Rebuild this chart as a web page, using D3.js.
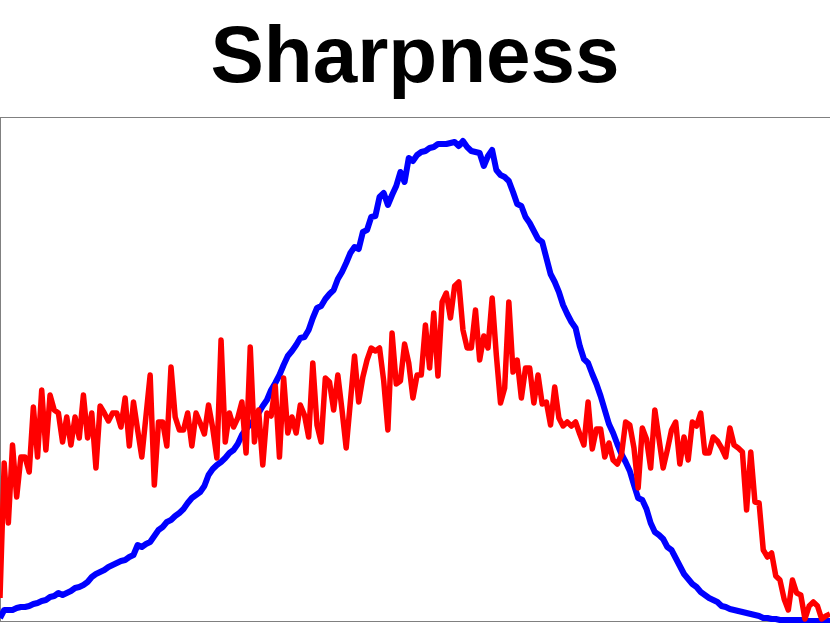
<!DOCTYPE html>
<html>
<head>
<meta charset="utf-8">
<script src="https://cdn.jsdelivr.net/npm/d3@7"></script>
<style>
  html, body { margin: 0; padding: 0; background: #fff; }
  svg { display: block; }
</style>
</head>
<body>
<svg id="chart" width="830" height="623"></svg>
<script>
const title = "Sharpness";

// Red series (noisy) – 200 bins
const redValues = [
  23,158,98,176,124,164,164,149,214,164,
  231,171,226,211,208,179,204,176,204,183,
  226,183,208,153,215,208,200,208,208,194,
  223,175,219,191,164,205,246,136,199,199,
  175,254,204,191,191,208,175,208,198,187,
  216,193,163,281,179,208,194,203,219,168,
  274,179,211,156,208,205,235,164,243,188,
  204,188,216,206,184,258,196,179,243,239,
  211,246,211,173,219,265,219,244,261,273,
  270,273,240,191,288,237,240,277,258,223,
  246,246,296,253,308,245,319,328,303,335,
  339,291,273,273,311,261,285,273,323,266,
  218,233,319,249,261,223,253,253,218,246,
  217,219,196,234,203,195,199,195,199,187,
  176,219,172,192,192,164,178,161,157,166,
  199,196,173,133,193,182,153,211,182,153,
  171,191,199,157,184,161,199,195,208,168,
  168,184,180,173,164,193,176,173,169,111,
  169,119,118,71,64,68,45,41,22,11,
  41,28,26,2,15,19,15,2,5,7
];

// Blue series (smooth bell) – 200 bins
const blueValues = [
  3,11,11,11,13,14,14,15,17,18,
  20,21,24,25,28,26,28,30,33,34,
  36,39,44,47,49,51,54,56,58,60,
  61,64,66,76,74,77,79,85,91,94,
  99,101,105,108,112,118,123,126,129,135,
  146,152,156,159,163,168,171,177,186,192,
  197,201,208,215,221,231,238,246,256,265,
  270,276,283,284,291,303,313,315,322,327,
  331,342,349,358,368,374,372,389,391,404,
  405,424,428,416,426,435,449,439,463,460,
  466,469,470,473,474,477,477,477,478,479,
  475,480,474,470,469,468,455,465,471,451,
  446,444,440,429,417,415,404,398,390,382,
  379,363,347,339,329,316,307,299,293,275,
  262,258,247,237,225,211,197,188,177,167,
  159,150,136,123,121,112,98,89,86,82,
  74,71,63,55,47,42,37,34,29,26,
  23,21,19,15,14,12,11,10,9,8,
  7,6,5,3,3,2,2,1,1,1,
  1,1,1,0,0,0,0,0,0,0
];

const seriesColors = ["#0000ff", "#ff0000"];
const yMax = 504;

const svg = d3.select("#chart");
const W = 830, H = 623;
const plot = { left: 0.5, top: 117.5, right: 830, bottom: 621.5 };

const x = d3.scaleLinear().domain([0, redValues.length - 1]).range([0, 830]);
const y = d3.scaleLinear().domain([0, yMax]).range([621, 117]);

// frame
svg.append("rect")
  .attr("x", plot.left).attr("y", plot.top)
  .attr("width", 900).attr("height", plot.bottom - plot.top)
  .attr("fill", "none").attr("stroke", "#808080").attr("stroke-width", 1);

// title
svg.append("text")
  .attr("x", 415).attr("y", 82)
  .attr("text-anchor", "middle")
  .attr("font-family", "'Liberation Sans', Arial, Helvetica, sans-serif")
  .attr("font-weight", "bold")
  .attr("font-size", 80)
  .attr("fill", "#000")
  .text(title);

const line = d3.line().x((d, i) => x(i)).y(d => y(d));

svg.append("path")
  .datum(blueValues)
  .attr("d", line)
  .attr("fill", "none")
  .attr("stroke", seriesColors[0])
  .attr("stroke-width", 6)
  .attr("stroke-linejoin", "round");

svg.append("path")
  .datum(redValues)
  .attr("d", line)
  .attr("fill", "none")
  .attr("stroke", seriesColors[1])
  .attr("stroke-width", 5.5)
  .attr("stroke-linejoin", "round");
</script>
</body>
</html>
